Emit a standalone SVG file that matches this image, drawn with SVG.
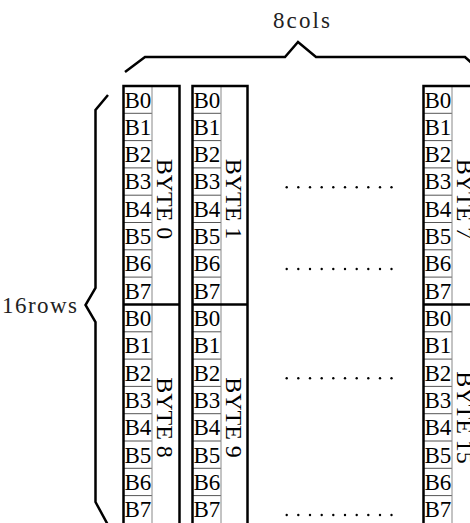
<svg xmlns="http://www.w3.org/2000/svg" width="470" height="523" viewBox="0 0 470 523">
<style>
.bg{fill:#fff}
.outer{fill:none;stroke:#000;stroke-width:2.5}
.sep{stroke:#000;stroke-width:2.5}
.div{stroke:#888;stroke-width:1}
.row{stroke:#555;stroke-width:1}
.bit{font-family:"Liberation Serif","Times New Roman",serif;font-size:23px;fill:#000}
.byte{font-family:"Liberation Serif","Times New Roman",serif;font-size:24px;fill:#000}
.lbl{font-family:"Liberation Serif","Times New Roman",serif;font-size:23px;fill:#222}
.brace{fill:none;stroke:#000;stroke-width:2.5;stroke-linejoin:miter}
.dot{fill:#000}
</style>
<defs>
<g id="bits">
<line class="row" x1="0" y1="27.3" x2="28.5" y2="27.3"/>
<line class="row" x1="0" y1="54.6" x2="28.5" y2="54.6"/>
<line class="row" x1="0" y1="81.9" x2="28.5" y2="81.9"/>
<line class="row" x1="0" y1="109.2" x2="28.5" y2="109.2"/>
<line class="row" x1="0" y1="136.5" x2="28.5" y2="136.5"/>
<line class="row" x1="0" y1="163.8" x2="28.5" y2="163.8"/>
<line class="row" x1="0" y1="191.1" x2="28.5" y2="191.1"/>
<line class="div" x1="28.5" y1="0" x2="28.5" y2="218.5"/>
<text class="bit" x="1" y="21.5">B0</text>
<text class="bit" x="1" y="48.8">B1</text>
<text class="bit" x="1" y="76.1">B2</text>
<text class="bit" x="1" y="103.4">B3</text>
<text class="bit" x="1" y="130.7">B4</text>
<text class="bit" x="1" y="158">B5</text>
<text class="bit" x="1" y="185.3">B6</text>
<text class="bit" x="1" y="212.6">B7</text>
</g>
<g id="dots" class="dot">
<circle cx="286.7" cy="0" r="1.2"/><circle cx="298.3" cy="0" r="1.2"/><circle cx="310" cy="0" r="1.2"/><circle cx="321.7" cy="0" r="1.2"/><circle cx="333.3" cy="0" r="1.2"/><circle cx="345" cy="0" r="1.2"/><circle cx="356.7" cy="0" r="1.2"/><circle cx="368.3" cy="0" r="1.2"/><circle cx="380" cy="0" r="1.2"/><circle cx="391.5" cy="0" r="1.2"/>
</g>
</defs>
<rect class="bg" x="0" y="0" width="470" height="523"/>

<g id="byte0" transform="translate(123.5,86)">
<use href="#bits"/>
<text class="byte" transform="translate(33.5,113) rotate(90)" text-anchor="middle">BYTE 0</text>
</g>
<g id="byte8" transform="translate(123.5,304.5)">
<use href="#bits"/>
<text class="byte" transform="translate(33.5,113) rotate(90)" text-anchor="middle">BYTE 8</text>
</g>
<g id="byte1" transform="translate(192.5,86)">
<use href="#bits"/>
<text class="byte" transform="translate(33.5,113) rotate(90)" text-anchor="middle">BYTE 1</text>
</g>
<g id="byte9" transform="translate(192.5,304.5)">
<use href="#bits"/>
<text class="byte" transform="translate(33.5,113) rotate(90)" text-anchor="middle">BYTE 9</text>
</g>
<g id="byte7" transform="translate(423.5,86)">
<use href="#bits"/>
<text class="byte" transform="translate(33.5,113) rotate(90)" text-anchor="middle">BYTE 7</text>
</g>
<g id="byte15" transform="translate(423.5,304.5)">
<use href="#bits"/>
<text class="byte" transform="translate(33.5,113) rotate(90)" text-anchor="middle">BYTE 15</text>
</g>

<g id="column-borders">
<rect class="outer" x="123.5" y="86" width="56" height="440"/>
<line class="sep" x1="123.5" y1="304.5" x2="179.5" y2="304.5"/>
<rect class="outer" x="192.5" y="86" width="55" height="440"/>
<line class="sep" x1="192.5" y1="304.5" x2="247.5" y2="304.5"/>
<rect class="outer" x="423.5" y="86" width="56" height="440"/>
<line class="sep" x1="423.5" y1="304.5" x2="479.5" y2="304.5"/>
</g>

<g id="ellipses">
<use href="#dots" transform="translate(0,187.3)"/>
<use href="#dots" transform="translate(0,269)"/>
<use href="#dots" transform="translate(0,378.3)"/>
<use href="#dots" transform="translate(0,515)"/>
</g>

<g id="connectors">
<path class="brace" d="M125,72 L145,57 L285,57 L298,42 L316,57 L465,57 L475,66"/>
<path class="brace" d="M108,95 L95.5,110 L95.5,288 L85.5,305 L95.5,322 L95.5,502 L108,525"/>
</g>

<g id="labels">
<text class="lbl" x="273" y="28" textLength="57" lengthAdjust="spacing">8cols</text>
<text class="lbl" x="2" y="313" textLength="75" lengthAdjust="spacing">16rows</text>
</g>
</svg>
